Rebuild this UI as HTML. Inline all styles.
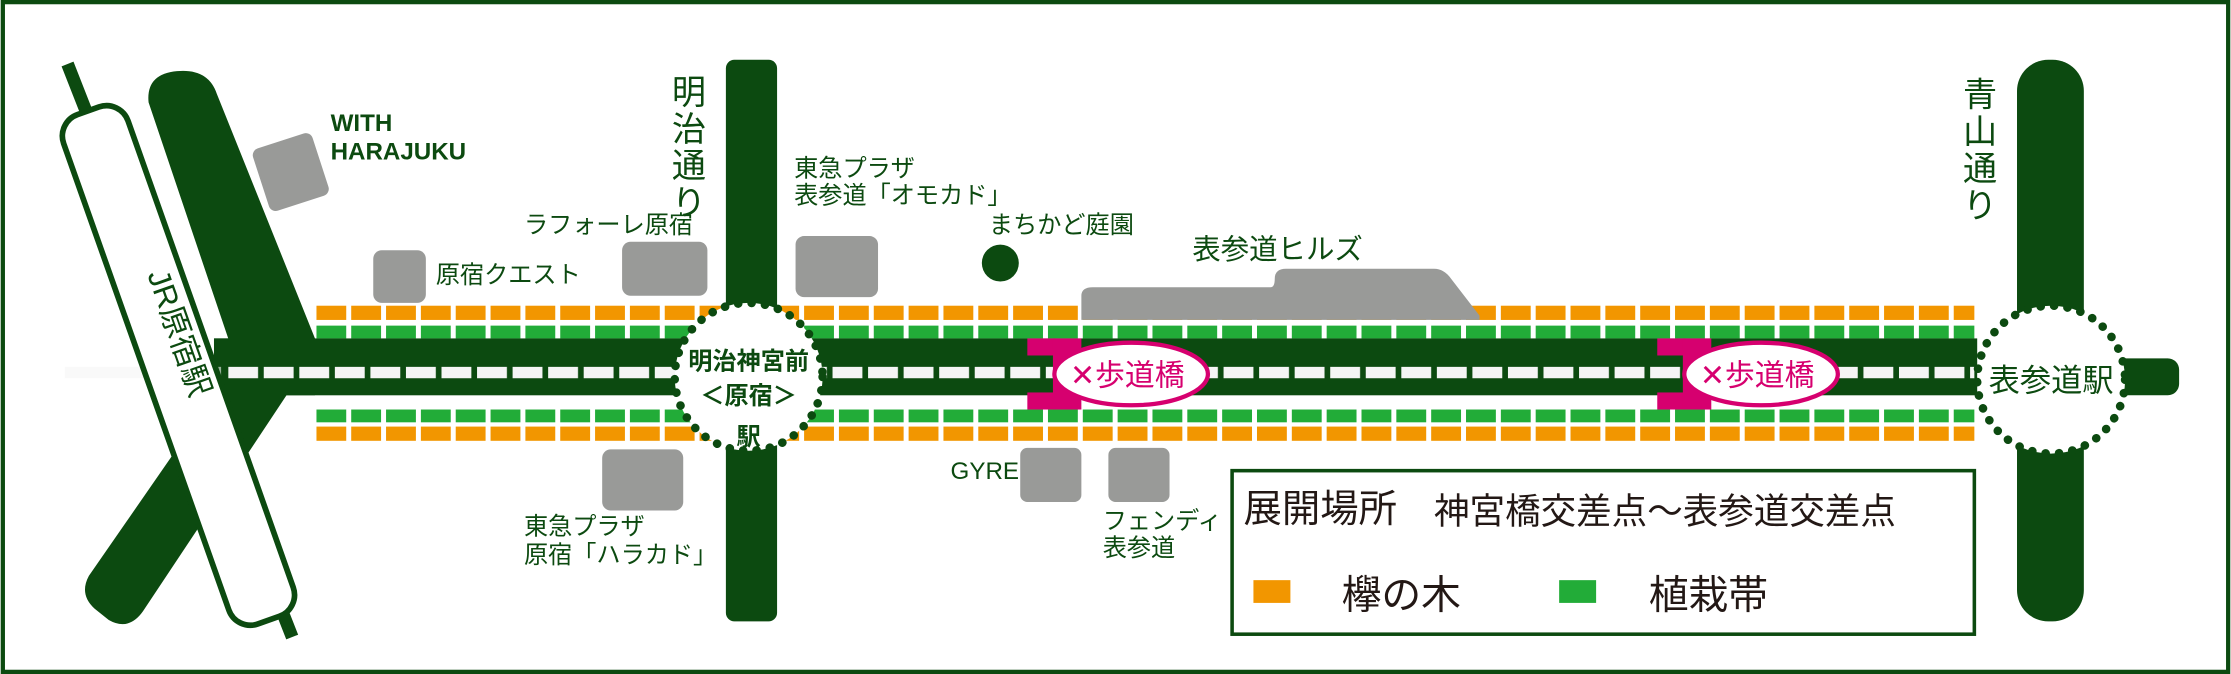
<!DOCTYPE html>
<html><head><meta charset="utf-8"><style>
html,body{margin:0;padding:0;background:#fff}
svg{display:block}
text{font-family:"Liberation Sans","Noto Sans CJK JP",sans-serif}
</style></head><body>
<svg width="2231" height="674" viewBox="0 0 1568 474" xmlns="http://www.w3.org/2000/svg">
<defs>
<pattern id="or" x="222" y="0" width="24.5" height="474" patternUnits="userSpaceOnUse"><rect x="0" y="0" width="21" height="474" fill="#f29600"/></pattern>
<pattern id="gr" x="222" y="0" width="24.5" height="474" patternUnits="userSpaceOnUse"><rect x="0" y="0" width="21" height="474" fill="#22ac38"/></pattern>
<pattern id="dash" x="160" y="0" width="25" height="474" patternUnits="userSpaceOnUse"><rect x="0" y="0" width="21" height="474" fill="#f5f5f5"/></pattern>
</defs>
<rect x="1.5" y="1.5" width="1565" height="471" fill="#fff" stroke="#0c4a10" stroke-width="3"/>
<!-- tree rows -->
<rect x="222" y="215" width="1166" height="10" fill="url(#or)"/>
<rect x="222" y="229" width="1166" height="9" fill="url(#gr)"/>
<rect x="222" y="288" width="1166" height="9" fill="url(#gr)"/>
<rect x="222" y="300" width="1166" height="10" fill="url(#or)"/>
<!-- buildings -->
<rect x="182" y="98" width="44" height="46" rx="5" fill="#999a98" transform="rotate(-18 204 121)"/>
<rect x="262" y="176" width="37" height="37" rx="6" fill="#999a98"/>
<rect x="437" y="170" width="60" height="38" rx="6" fill="#999a98"/>
<rect x="559" y="166" width="58" height="43" rx="6" fill="#999a98"/>
<rect x="423" y="316" width="57" height="43" rx="6" fill="#999a98"/>
<rect x="717" y="315" width="43" height="38" rx="5" fill="#999a98"/>
<rect x="779" y="315" width="43" height="38" rx="5" fill="#999a98"/>
<path d="M760 225 L760 208 Q760 202 768 202 L893 202 Q896 202 896 196 Q896 189 904 189 L1008 189 Q1015 189 1020 196 L1040 222 L1040 225 Z" fill="#999a98"/>
<circle cx="703" cy="185" r="13" fill="#0c4a10"/>
<!-- left diagonal roads -->
<path d="M104 72 Q102 52 124 50 Q146 48 152 66 L221 238 L221 278 L201 278 L100 430 Q90 444 76 436 L66 428 Q55 418 62 405 L150 278 L150 238 L160 238 Z" fill="#0c4a10"/>
<!-- main road -->
<rect x="150" y="238" width="1240" height="40" fill="#0c4a10"/>
<rect x="160" y="258" width="1228" height="8" fill="url(#dash)"/>
<rect x="45" y="258" width="110" height="8" fill="#f5f5f5" opacity="0.6"/>
<!-- JR track & station -->
<line x1="47" y1="45" x2="205" y2="448" stroke="#0c4a10" stroke-width="9"/>
<g transform="rotate(-19.5 125 257)">
<rect x="101" y="67" width="48" height="380" rx="16" fill="#fff" stroke="#0c4a10" stroke-width="4"/>
</g>
<text x="0" y="0" font-size="22" fill="#0c4a10" transform="translate(103 193) rotate(70.5)">JR原宿駅</text>
<!-- vertical roads -->
<rect x="510" y="42" width="36" height="395" rx="6" fill="#0c4a10"/>
<rect x="1418" y="42" width="47" height="395" rx="22" fill="#0c4a10"/>
<rect x="1470" y="252" width="62" height="26" rx="8" fill="#0c4a10"/>
<!-- footbridges -->
<g fill="#d6006f">
<rect x="722" y="238" width="20" height="12"/><rect x="722" y="276" width="20" height="12"/>
<rect x="740" y="238" width="20" height="50"/>
<rect x="1165" y="238" width="20" height="12"/><rect x="1165" y="276" width="20" height="12"/>
<rect x="1183" y="238" width="20" height="50"/>
</g>
<ellipse cx="795" cy="263" rx="54" ry="22" fill="#fff" stroke="#d6006f" stroke-width="3"/>
<ellipse cx="1238" cy="263" rx="54" ry="22" fill="#fff" stroke="#d6006f" stroke-width="3"/>
<text x="752" y="271" font-size="21" fill="#d6006f">✕歩道橋</text>
<text x="1195" y="271" font-size="21" fill="#d6006f">✕歩道橋</text>
<!-- stations -->
<circle cx="526" cy="265" r="52" fill="#fff" stroke="#0c4a10" stroke-width="6" stroke-dasharray="0.1 9.4" stroke-linecap="round"/>
<circle cx="1442" cy="267" r="52" fill="#fff" stroke="#0c4a10" stroke-width="6" stroke-dasharray="0.1 9.4" stroke-linecap="round"/>
<text x="526" y="260" font-size="17" fill="#0c4a10" font-weight="bold" text-anchor="middle">明治神宮前</text>
<text x="526" y="284" font-size="17" fill="#0c4a10" font-weight="bold" text-anchor="middle">＜原宿＞</text>
<text x="526" y="313" font-size="17" fill="#0c4a10" font-weight="bold" text-anchor="middle">駅</text>
<text x="1442" y="275" font-size="22" fill="#0c4a10" text-anchor="middle">表参道駅</text>
<!-- labels -->
<g fill="#0c4a10">
<text x="232" y="92" font-size="17" font-weight="bold">WITH</text>
<text x="232" y="112" font-size="17" font-weight="bold">HARAJUKU</text>
<text font-size="24" x="472" y="73">明</text><text font-size="24" x="472" y="99">治</text><text font-size="24" x="472" y="125">通</text><text font-size="24" x="472" y="151">り</text>
<text font-size="24" x="1380" y="75">青</text><text font-size="24" x="1380" y="101">山</text><text font-size="24" x="1380" y="127">通</text><text font-size="24" x="1380" y="153">り</text>
<text x="558" y="124" font-size="17">東急プラザ</text>
<text x="558" y="143" font-size="17">表参道「オモカド」</text>
<text x="368" y="164" font-size="17">ラフォーレ原宿</text>
<text x="306" y="199" font-size="17">原宿クエスト</text>
<text x="695" y="164" font-size="17">まちかど庭園</text>
<text x="838" y="182" font-size="20">表参道ヒルズ</text>
<text x="368" y="376" font-size="17">東急プラザ</text>
<text x="368" y="396" font-size="17">原宿「ハラカド」</text>
<text x="668" y="337" font-size="17">GYRE</text>
<text x="775" y="372" font-size="17">フェンディ</text>
<text x="775" y="391" font-size="17">表参道</text>
</g>
<!-- legend -->
<rect x="866" y="331" width="522" height="115" fill="#fff" stroke="#0c4a10" stroke-width="2.5"/>
<text x="874" y="367" font-size="27" fill="#231815">展開場所</text>
<text x="1008" y="368" font-size="25" fill="#231815">神宮橋交差点～表参道交差点</text>
<rect x="881" y="408" width="26" height="16" fill="#f29600"/>
<text x="943" y="428" font-size="28" fill="#231815">欅の木</text>
<rect x="1096" y="408" width="26" height="16" fill="#22ac38"/>
<text x="1159" y="428" font-size="28" fill="#231815">植栽帯</text>
</svg>
</body></html>
